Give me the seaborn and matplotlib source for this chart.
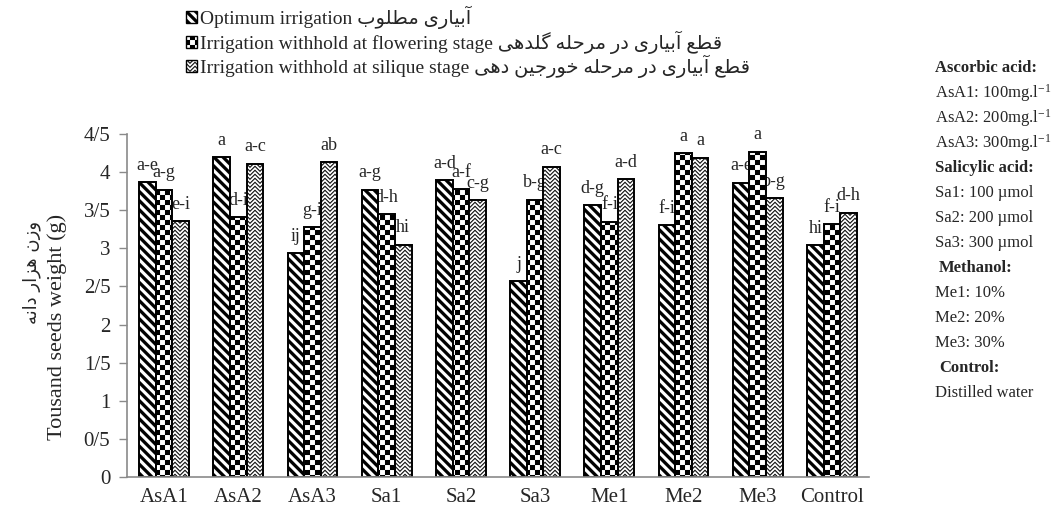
import warnings
warnings.filterwarnings('ignore')
import numpy as np
import pandas as pd
import matplotlib
matplotlib.use('Agg')
import matplotlib.pyplot as plt
import matplotlib.hatch as mhatch
import matplotlib.patches as mpatches
from matplotlib.path import Path
import seaborn as sns

# ---------------- data ----------------
categories = ['AsA1', 'AsA2', 'AsA3', 'Sa1', 'Sa2', 'Sa3', 'Me1', 'Me2', 'Me3', 'Control']
optimum = [3.87, 4.20, 2.94, 3.77, 3.89, 2.57, 3.57, 3.30, 3.86, 3.04]
flowering = [3.77, 3.41, 3.28, 3.45, 3.78, 3.64, 3.35, 4.25, 4.27, 3.32]
silique = [3.36, 4.11, 4.13, 3.05, 3.63, 4.07, 3.91, 4.19, 3.66, 3.47]
letters_opt = ['a-e', 'a', 'ij', 'a-g', 'a-d', 'j', 'd-g', 'f-i', 'a-e', 'hi']
letters_flw = ['a-g', 'd-i', 'g-i', 'd-h', 'a-f', 'b-g', 'f-i', 'a', 'a', 'f-i']
letters_sil = ['e-i', 'a-c', 'ab', 'hi', 'c-g', 'a-c', 'a-d', 'a', 'b-g', 'd-h']
series_en = ['Optimum irrigation',
             'Irrigation withhold at flowering stage',
             'Irrigation withhold at silique stage']
series_fa = ['آبیاری مطلوب',
             'قطع آبیاری در مرحله گلدهی',
             'قطع آبیاری در مرحله خورجین دهی']
ytick_values = [0, 0.5, 1, 1.5, 2, 2.5, 3, 3.5, 4, 4.5]
ytick_labels = ['0', '0/5', '1', '1/5', '2', '2/5', '3', '3/5', '4', '4/5']
ylabel_en = 'Tousand seeds weight (g)'
ylabel_fa = 'وزن هزار دانه'
notes = [('Ascorbic acid:', True, 0),
         ('AsA1: 100mg.l$^{-1}$', False, 0),
         ('AsA2: 200mg.l$^{-1}$', False, 0),
         ('AsA3: 300mg.l$^{-1}$', False, 0),
         ('Salicylic acid:', True, 0),
         ('Sa1: 100 µmol', False, 0),
         ('Sa2: 200 µmol', False, 0),
         ('Sa3: 300 µmol', False, 0),
         ('Methanol:', True, 4),
         ('Me1: 10%', False, 0),
         ('Me2: 20%', False, 0),
         ('Me3: 30%', False, 0),
         ('Control:', True, 4),
         ('Distilled water', False, 0)]

# ---------------- simple Persian shaping (presentation forms) ----------------
_forms = {
    '\u0622': ('\uFE81', '\uFE82', None, None),
    '\u0627': ('\uFE8D', '\uFE8E', None, None),
    '\u0628': ('\uFE8F', '\uFE90', '\uFE91', '\uFE92'),
    '\u062C': ('\uFE9D', '\uFE9E', '\uFE9F', '\uFEA0'),
    '\u062D': ('\uFEA1', '\uFEA2', '\uFEA3', '\uFEA4'),
    '\u062E': ('\uFEA5', '\uFEA6', '\uFEA7', '\uFEA8'),
    '\u062F': ('\uFEA9', '\uFEAA', None, None),
    '\u0631': ('\uFEAD', '\uFEAE', None, None),
    '\u0632': ('\uFEAF', '\uFEB0', None, None),
    '\u0637': ('\uFEC1', '\uFEC2', '\uFEC3', '\uFEC4'),
    '\u0639': ('\uFEC9', '\uFECA', '\uFECB', '\uFECC'),
    '\u0642': ('\uFED5', '\uFED6', '\uFED7', '\uFED8'),
    '\u0644': ('\uFEDD', '\uFEDE', '\uFEDF', '\uFEE0'),
    '\u0645': ('\uFEE1', '\uFEE2', '\uFEE3', '\uFEE4'),
    '\u0646': ('\uFEE5', '\uFEE6', '\uFEE7', '\uFEE8'),
    '\u0647': ('\uFEE9', '\uFEEA', '\uFEEB', '\uFEEC'),
    '\u0648': ('\uFEED', '\uFEEE', None, None),
    '\u06CC': ('\uFBFC', '\uFBFD', '\uFBFE', '\uFBFF'),
    '\u064A': ('\uFBFC', '\uFBFD', '\uFBFE', '\uFBFF'),
    '\u06AF': ('\uFB92', '\uFB93', '\uFB94', '\uFB95'),
}


def shape_fa(s):
    out = []
    for i, ch in enumerate(s):
        f = _forms.get(ch)
        if f is None:
            out.append(ch)
            continue
        prev = s[i - 1] if i > 0 else ''
        nxt = s[i + 1] if i + 1 < len(s) else ''
        pj = prev in _forms and _forms[prev][2] is not None
        nj = f[2] is not None and nxt in _forms
        if pj and nj:
            g = f[3]
        elif pj:
            g = f[1]
        elif nj:
            g = f[2]
        else:
            g = f[0]
        out.append(g)
    return ''.join(reversed(out))


# ---------------- custom fill patterns ----------------
class _CustomHatch(mhatch.HatchPatternBase):
    def __init__(self, hatch, density):
        polys = []
        if 'c' in hatch:  # checkerboard
            n = 20
            s = 1.0 / n
            for i in range(n):
                for j in range(n):
                    if (i + j) % 2 == 0:
                        x0, y0 = i * s, j * s
                        polys.append([(x0, y0), (x0 + s, y0), (x0 + s, y0 + s), (x0, y0 + s)])
        if 'd' in hatch:  # thick "\" stripes
            k = 11
            w = 0.5 / k
            for m in range(-2, 2 * k + 3):
                c = m / k
                polys.append([(-1, 1 + c), (2, -2 + c), (2, -2 + c + w), (-1, 1 + c + w)])
        if 'z' in hatch:  # thin herringbone zigzag
            hp = 0.05
            amp = 0.05
            rs = 0.04
            t = 0.014
            nseg = int(round(1 / hp))
            for r in range(-2, int(round(1 / rs)) + 2):
                base = r * rs
                top = [(i * hp, base + (amp if i % 2 else 0)) for i in range(nseg + 1)]
                bot = [(x, y + t) for (x, y) in top][::-1]
                polys.append(top + bot)
        self.polys = polys
        self.num_vertices = sum(len(p) + 1 for p in polys)

    def set_vertices_and_codes(self, vertices, codes):
        k = 0
        for p in self.polys:
            n = len(p)
            vertices[k:k + n] = p
            vertices[k + n] = p[0]
            codes[k] = Path.MOVETO
            codes[k + 1:k + n] = Path.LINETO
            codes[k + n] = Path.CLOSEPOLY
            k += n + 1


mhatch._hatch_types.append(_CustomHatch)
hatches = ['d', 'c', 'z']

# ---------------- style ----------------
sns.set_theme(style='white')
plt.rcParams['font.family'] = ['Liberation Serif', 'DejaVu Sans']
plt.rcParams['mathtext.fontset'] = 'custom'
plt.rcParams['mathtext.rm'] = 'Liberation Serif'
plt.rcParams['mathtext.it'] = 'Liberation Serif:italic'
plt.rcParams['mathtext.bf'] = 'Liberation Serif:bold'
plt.rcParams['hatch.linewidth'] = 0.05
plt.rcParams['hatch.color'] = 'black'

series_keys = ['opt', 'flw', 'sil']
df = pd.DataFrame({
    'category': categories * 3,
    'value': optimum + flowering + silique,
    'series': [series_keys[0]] * len(categories) + [series_keys[1]] * len(categories)
              + [series_keys[2]] * len(categories),
})

fig = plt.figure(figsize=(10.52, 5.15), dpi=100)
ax = fig.add_axes([127 / 1052, 1 - 477 / 515, (869 - 127) / 1052, (477 - 134) / 515])

sns.barplot(data=df, x='category', y='value', hue='series', order=categories,
            hue_order=series_keys, palette=['white'] * 3, saturation=1,
            width=0.67, gap=0, edgecolor='black', linewidth=1.4,
            errorbar=None, legend=False, ax=ax)

all_letters = [letters_opt, letters_flw, letters_sil]
for cont, h, lets in zip(ax.containers, hatches, all_letters):
    for bar, lab in zip(cont, lets):
        bar.set_hatch(h)
        bar.set_zorder(2)
        ax.annotate(lab, (bar.get_x() + bar.get_width() / 2, bar.get_height()),
                    xytext=(0, 6), textcoords='offset points', ha='center', va='bottom',
                    fontsize=13, zorder=1, annotation_clip=False)

ax.set_ylim(0, 4.5)
ax.set_xlim(-0.5, len(categories) - 0.5)
ax.set_yticks(ytick_values)
ax.set_yticklabels(ytick_labels, fontsize=15)
ax.set_xticks(range(len(categories)))
ax.set_xticklabels(categories, fontsize=15)
ax.set_xticks(np.arange(-0.5, len(categories), 1.0), minor=True)
ax.tick_params(axis='x', which='major', length=0, pad=8)
ax.tick_params(axis='x', which='minor', length=6, color='#8a8a8a', width=1)
ax.tick_params(axis='y', length=6, color='#8a8a8a', width=1, pad=6, left=True)
ax.set_xlabel('')
ax.set_ylabel('')
for side in ['top', 'right']:
    ax.spines[side].set_visible(False)
for side in ['left', 'bottom']:
    ax.spines[side].set_color('#8a8a8a')
    ax.spines[side].set_linewidth(1.2)

# y labels
fig.text(57 / 1052, 1 - 327 / 515, ylabel_en, rotation=90, fontsize=16,
         ha='center', va='center')
fig.text(32 / 1052, 1 - 272 / 515, shape_fa(ylabel_fa), rotation=90, fontsize=13,
         ha='center', va='center', family=['DejaVu Sans'])

# legend
handles = [mpatches.Patch(facecolor='white', edgecolor='black', linewidth=1.0, hatch=h)
           for h in hatches]
labels = [en + ' ' + shape_fa(fa) for en, fa in zip(series_en, series_fa)]
fig.legend(handles, labels, loc='upper left', bbox_to_anchor=(186 / 1052, 1 - 6 / 515),
           frameon=False, fontsize=14, handlelength=0.55, handleheight=0.55,
           handletextpad=0.15, labelspacing=0.06, borderpad=0, borderaxespad=0)

# notes on the right
for i, (txt, bold, dx) in enumerate(notes):
    fig.text((935 + dx) / 1052, 1 - (68 + 25 * i) / 515, txt, fontsize=12,
             fontweight='bold' if bold else 'normal', ha='left', va='center')

fig.savefig('out.png', dpi=100)
